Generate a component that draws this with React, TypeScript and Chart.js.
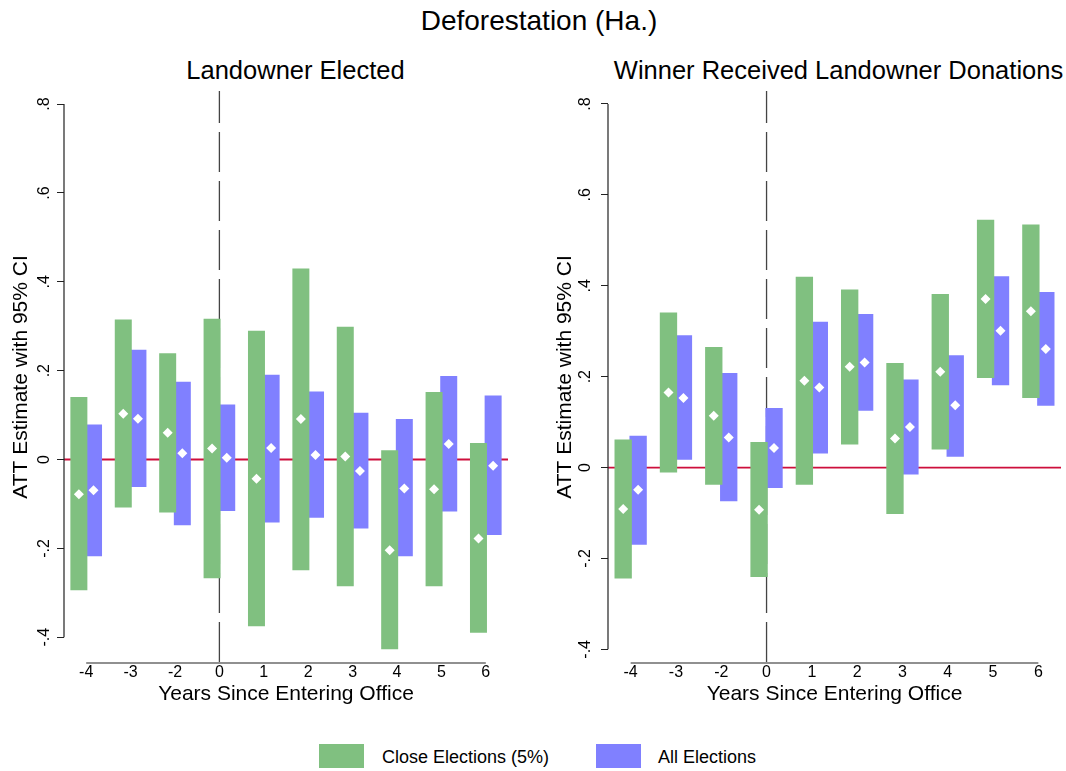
import React, { useEffect, useRef } from 'react';
import { Chart, registerables } from 'chart.js';

Chart.register(...registerables);

const FONT = '"Liberation Sans", Arial, sans-serif';
const GREEN = 'rgb(128,192,128)';
const BLUE = 'rgb(128,128,255)';
const ZERO_RED = 'rgb(205,15,60)';

// Years relative to entering office (year -1 is the omitted reference period)
const years = ['-4', '-3', '-2', '0', '1', '2', '3', '4', '5', '6'];
const yTickValues = [-0.4, -0.2, 0, 0.2, 0.4, 0.6, 0.8];

// Panel 1: Landowner Elected
const p1CloseLow = [-0.294, -0.108, -0.119, -0.267, -0.375, -0.249, -0.285, -0.427, -0.285, -0.390];
const p1CloseHigh = [0.141, 0.315, 0.239, 0.317, 0.290, 0.430, 0.299, 0.021, 0.152, 0.037];
const p1CloseEst = [-0.078, 0.103, 0.060, 0.025, -0.043, 0.091, 0.007, -0.204, -0.067, -0.178];
const p1AllLow = [-0.218, -0.062, -0.148, -0.116, -0.142, -0.131, -0.155, -0.218, -0.117, -0.170];
const p1AllHigh = [0.079, 0.247, 0.175, 0.124, 0.191, 0.153, 0.105, 0.091, 0.188, 0.144];
const p1AllEst = [-0.069, 0.092, 0.014, 0.004, 0.026, 0.010, -0.026, -0.065, 0.035, -0.014];

// Panel 2: Winner Received Landowner Donations
const p2CloseLow = [-0.244, -0.011, -0.038, -0.241, -0.038, 0.051, -0.102, 0.040, 0.197, 0.153];
const p2CloseHigh = [0.062, 0.341, 0.265, 0.056, 0.420, 0.392, 0.230, 0.382, 0.545, 0.535];
const p2CloseEst = [-0.091, 0.165, 0.114, -0.093, 0.191, 0.222, 0.064, 0.211, 0.371, 0.344];
const p2AllLow = [-0.170, 0.017, -0.074, -0.045, 0.031, 0.125, -0.015, 0.024, 0.181, 0.136];
const p2AllHigh = [0.070, 0.291, 0.208, 0.131, 0.321, 0.338, 0.194, 0.247, 0.421, 0.386];
const p2AllEst = [-0.049, 0.153, 0.066, 0.043, 0.176, 0.231, 0.089, 0.137, 0.301, 0.261];

const fmtTick = (v: number) => {
  if (Math.abs(v) < 1e-9) return '0';
  return v.toFixed(1).replace('0.', '.');
};

const decorPlugin = {
  id: 'decor',
  afterDatasetsUpdate(chart: any) {
    // place each estimate marker at the centre of its own bar
    chart.data.datasets.forEach((ds: any, i: number) => {
      if (ds.barRef === undefined) return;
      const meta = chart.getDatasetMeta(i);
      const barMeta = chart.getDatasetMeta(ds.barRef);
      meta.data.forEach((pt: any, j: number) => {
        if (barMeta.data[j]) pt.x = barMeta.data[j].x;
      });
    });
  },
  beforeDatasetsDraw(chart: any) {
    const { ctx, chartArea } = chart;
    const xs = chart.scales.x;
    const ys = chart.scales.y;
    ctx.save();
    // zero reference line
    const y0 = ys.getPixelForValue(0);
    ctx.strokeStyle = ZERO_RED;
    ctx.lineWidth = 1.8;
    ctx.beginPath();
    ctx.moveTo(chartArea.left, y0);
    ctx.lineTo(chartArea.right, y0);
    ctx.stroke();
    // dashed line at year 0
    const x0 = xs.getPixelForValue(years.indexOf('0'));
    ctx.strokeStyle = '#444';
    ctx.lineWidth = 1.3;
    ctx.setLineDash([40, 9]);
    ctx.lineDashOffset = 8;
    ctx.beginPath();
    ctx.moveTo(x0, chartArea.top);
    ctx.lineTo(x0, chartArea.bottom);
    ctx.stroke();
    ctx.setLineDash([]);
    // axis lines spanning the tick range
    ctx.strokeStyle = '#222';
    ctx.lineWidth = 1.2;
    ctx.beginPath();
    ctx.moveTo(chartArea.left, ys.getPixelForValue(yTickValues[yTickValues.length - 1]));
    ctx.lineTo(chartArea.left, ys.getPixelForValue(yTickValues[0]));
    ctx.moveTo(xs.getPixelForValue(0), chartArea.bottom);
    ctx.lineTo(xs.getPixelForValue(years.length - 1), chartArea.bottom);
    ctx.stroke();
    ctx.restore();
  },
};

type PanelProps = {
  closeLow: number[];
  closeHigh: number[];
  closeEst: number[];
  allLow: number[];
  allHigh: number[];
  allEst: number[];
  yMin: number;
  yMax: number;
  yWidth: number;
  padRight: number;
  yTitlePad: number;
  yTickPad: number;
  left: number;
};

const CANVAS_W = 533;
const CANVAS_H = 713;

function Panel(p: PanelProps) {
  const ref = useRef<HTMLCanvasElement | null>(null);
  useEffect(() => {
    if (!ref.current) return;
    const pointDs = (data: number[], barRef: number, label: string) => ({
      type: 'line',
      label,
      data,
      showLine: false,
      pointStyle: 'rectRot',
      pointRadius: 5,
      pointBackgroundColor: '#fff',
      pointBorderColor: '#fff',
      pointBorderWidth: 0,
      order: 0,
      barRef,
    });
    const chart = new Chart(ref.current, {
      type: 'bar',
      data: {
        labels: years,
        datasets: [
          pointDs(p.closeEst, 2, 'Close estimate') as any,
          pointDs(p.allEst, 3, 'All estimate') as any,
          {
            type: 'bar',
            label: 'Close Elections (5%)',
            data: p.closeLow.map((l, i) => [l, p.closeHigh[i]]),
            backgroundColor: GREEN,
            borderWidth: 0,
            order: 1,
          },
          {
            type: 'bar',
            label: 'All Elections',
            data: p.allLow.map((l, i) => [l, p.allHigh[i]]),
            backgroundColor: BLUE,
            borderWidth: 0,
            order: 1,
          },
        ],
      },
      options: {
        responsive: false,
        animation: false,
        events: [],
        layout: { padding: { left: 0, right: p.padRight, top: 91, bottom: 0 } },
        datasets: { bar: { categoryPercentage: 0.66, barPercentage: 1.16 } },
        plugins: {
          legend: { display: false },
          title: { display: false },
          tooltip: { enabled: false },
        },
        scales: {
          x: {
            type: 'category',
            offset: true,
            grid: { display: false, drawTicks: false },
            border: { display: false },
            ticks: {
              font: { size: 16, family: FONT },
              color: '#000',
              padding: 0,
              maxRotation: 0,
              autoSkip: false,
            },
            title: {
              display: true,
              text: 'Years Since Entering Office',
              font: { size: 21, family: FONT },
              color: '#000',
              padding: { top: 0, bottom: 6.4 },
            },
            afterFit: (s: any) => {
              s.height = 50;
            },
          },
          y: {
            type: 'linear',
            min: p.yMin,
            max: p.yMax,
            afterBuildTicks: (s: any) => {
              s.ticks = yTickValues.map((v) => ({ value: v }));
            },
            grid: {
              display: true,
              drawOnChartArea: false,
              drawTicks: true,
              tickLength: 7,
              color: '#222',
              lineWidth: 1,
            },
            border: { display: false },
            ticks: {
              font: { size: 16, family: FONT },
              color: '#000',
              minRotation: 90,
              maxRotation: 90,
              crossAlign: 'center',
              padding: p.yTickPad,
              callback: (v: any) => fmtTick(Number(v)),
            },
            title: {
              display: true,
              text: 'ATT Estimate with 95% CI',
              font: { size: 21, family: FONT },
              color: '#000',
              padding: { top: p.yTitlePad, bottom: 0 },
            },
            afterFit: (s: any) => {
              s.width = p.yWidth;
            },
          },
        },
      } as any,
      plugins: [decorPlugin],
    });
    return () => chart.destroy();
  }, []);
  return (
    <canvas
      ref={ref}
      width={CANVAS_W}
      height={CANVAS_H}
      style={{ position: 'absolute', left: p.left, top: 0, width: CANVAS_W, height: CANVAS_H }}
    />
  );
}

export default function App() {
  const text = (extra: React.CSSProperties): React.CSSProperties => ({
    position: 'absolute',
    whiteSpace: 'nowrap',
    color: '#000',
    fontFamily: FONT,
    ...extra,
  });
  return (
    <div
      style={{
        position: 'absolute',
        left: 0,
        top: 0,
        width: 1066,
        height: 771,
        background: '#fff',
        overflow: 'hidden',
        fontFamily: FONT,
      }}
    >
      <div style={text({ left: 0, width: 1078, top: 7, fontSize: 28, lineHeight: '28px', textAlign: 'center' })}>
        Deforestation (Ha.)
      </div>
      <div style={text({ left: -4.5, width: 600, top: 57.5, fontSize: 25.5, lineHeight: '25.5px', textAlign: 'center' })}>
        Landowner Elected
      </div>
      <div style={text({ left: 538.5, width: 600, top: 57.5, fontSize: 25.5, lineHeight: '25.5px', textAlign: 'center' })}>
        Winner Received Landowner Donations
      </div>
      <Panel
        closeLow={p1CloseLow}
        closeHigh={p1CloseHigh}
        closeEst={p1CloseEst}
        allLow={p1AllLow}
        allHigh={p1AllHigh}
        allEst={p1AllEst}
        yMin={-0.458}
        yMax={0.8295}
        yWidth={64}
        padRight={25}
        yTitlePad={8.4}
        yTickPad={3}
        left={0}
      />
      <Panel
        closeLow={p2CloseLow}
        closeHigh={p2CloseHigh}
        closeEst={p2CloseEst}
        allLow={p2AllLow}
        allHigh={p2AllHigh}
        allEst={p2AllEst}
        yMin={-0.43}
        yMax={0.8285}
        yWidth={75}
        padRight={0}
        yTitlePad={19.4}
        yTickPad={5.6}
        left={533}
      />
      <div style={{ position: 'absolute', left: 319, top: 744, width: 45, height: 24, background: GREEN }} />
      <div style={text({ left: 382, top: 748, fontSize: 18, lineHeight: '18px' })}>Close Elections (5%)</div>
      <div style={{ position: 'absolute', left: 596, top: 744, width: 45, height: 24, background: BLUE }} />
      <div style={text({ left: 658, top: 748, fontSize: 18, lineHeight: '18px' })}>All Elections</div>
    </div>
  );
}
